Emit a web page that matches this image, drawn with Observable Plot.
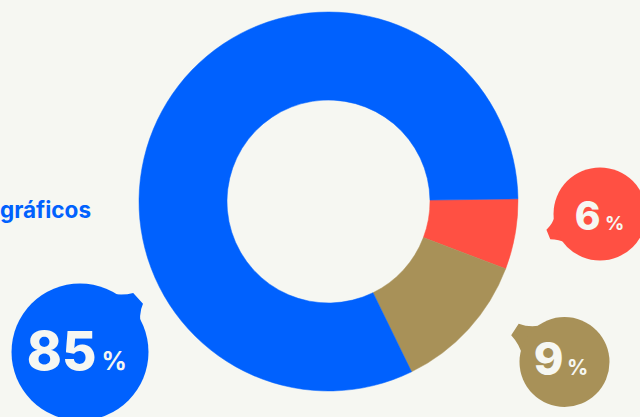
<!DOCTYPE html>
<html><head><meta charset="utf-8">
<script src="https://cdn.jsdelivr.net/npm/d3@7"></script>
<script src="https://cdn.jsdelivr.net/npm/@observablehq/plot@0.6"></script>
<style>
html,body{margin:0;padding:0;background:#f6f7f2;overflow:hidden}
#chart svg{display:block}
</style></head><body><div id="chart"></div>
<script>
// ---- data ----
const categories = ["rojo", "dorado", "azul"];        // drawing order, clockwise from 3 o'clock
const sliceShares = [6, 12, 82];                      // slice sizes as drawn (%)
const labelValues = ["6", "9", "85"];                 // percentages printed in the bubbles
const colors = ["#ff5043", "#a89158", "#0061fe"];
const sideLabel = ["gráficos"];

// ---- layout (not data) ----
const W = 640, H = 417, BG = "#f6f7f2";
const donut = {cx: 328.5, cy: 201.5, outer: 189.5, inner: 101.5, startDeg: 89.2};
const bubbles = [
  {r: 46.5, cx: 599.5, cy: 213.5, tail: 160, tailLen: 9, tailHalf: 15, numX: 600, pctX: 604.5, base: 229.5, numSize: 39, pctSize: 19},
  {r: 45,   cx: 564,   cy: 361.5, tail: 216, tailLen: 14, tailHalf: 19, numX: 563, pctX: 566.5, base: 374.5, numSize: 45, pctSize: 21},
  {r: 68.5, cx: 79.5,  cy: 351.5, tail: -40, tailLen: 11, tailHalf: 15, numX: 96, pctX: 101, base: 369.5, numSize: 53, pctSize: 25}
];

const slices = categories.map((c, i) => ({cat: c, share: sliceShares[i]}));
const bubbleData = categories.map((c, i) => ({cat: c, label: labelValues[i], ...bubbles[i]}));

function donutMark(index, scales) {
  const cx = scales.x(donut.cx), cy = scales.y(donut.cy);
  const R = scales.x(donut.cx + donut.outer) - cx;
  const r0 = scales.x(donut.cx + donut.inner) - cx;
  const a0 = donut.startDeg * Math.PI / 180;
  const pie = d3.pie().sort(null).value(d => d.share).startAngle(a0).endAngle(a0 + 2 * Math.PI);
  const arc = d3.arc().innerRadius(r0).outerRadius(R);
  const g = d3.create("svg:g").attr("transform", `translate(${cx},${cy})`);
  g.selectAll("path").data(pie(slices)).join("path")
    .attr("d", arc)
    .attr("fill", d => scales.color(d.data.cat))
    .attr("stroke", d => scales.color(d.data.cat))
    .attr("stroke-width", 0.5);
  return g.node();
}

function tailMark(index, scales) {
  const g = d3.create("svg:g");
  for (const b of bubbleData) {
    const cx = scales.x(b.cx), cy = scales.y(b.cy);
    const t = b.tail * Math.PI / 180, h = b.tailHalf * Math.PI / 180;
    const p = (ang, rad) => [cx + rad * Math.cos(ang), cy + rad * Math.sin(ang)];
    const b1 = p(t - h * 1.5, b.r - 3), b2 = p(t + h * 1.4, b.r - 3);
    const tip1 = p(t - h * 0.5, b.r + b.tailLen), tip2 = p(t + h * 0.2, b.r + b.tailLen);
    const path = d3.path();
    path.moveTo(...b1);
    path.quadraticCurveTo(...p(t - h * 0.8, b.r + 2), ...tip1);
    path.lineTo(...tip2);
    path.quadraticCurveTo(...p(t + h * 0.5, b.r + 1), ...b2);
    path.closePath();
    g.append("path").attr("d", path.toString()).attr("fill", scales.color(b.cat));
  }
  return g.node();
}

const font = "Inter, 'Noto Sans', sans-serif";

const plot = Plot.plot({
  width: W, height: H, margin: 0,
  style: {background: BG},
  x: {domain: [0, W], range: [0, W], axis: null},
  y: {domain: [0, H], range: [0, H], axis: null},
  r: {type: "identity"},
  color: {domain: categories, range: colors},
  marks: [
    donutMark,
    tailMark,
    Plot.dot(bubbleData, {x: "cx", y: "cy", r: "r", fill: "cat", stroke: null}),
    Plot.text(bubbleData, {x: "numX", y: "base", text: "label", textAnchor: "end", lineAnchor: "bottom",
      fill: BG, fontSize: d => d.numSize, fontWeight: 800, fontFamily: font, letterSpacing: "-1px"}),
    Plot.text(bubbleData, {x: "pctX", y: "base", text: d => "%", textAnchor: "start", lineAnchor: "bottom",
      fill: BG, fontSize: d => d.pctSize, fontWeight: 700, fontFamily: font}),
    Plot.text(sideLabel, {x: () => 90.5, y: () => 217.5, text: d => d, textAnchor: "end", lineAnchor: "bottom",
      fill: "#0061fe", fontSize: 22.5, fontWeight: 700, fontFamily: font, letterSpacing: "0.2px"})
  ]
});
document.getElementById("chart").appendChild(plot);
</script></body></html>
